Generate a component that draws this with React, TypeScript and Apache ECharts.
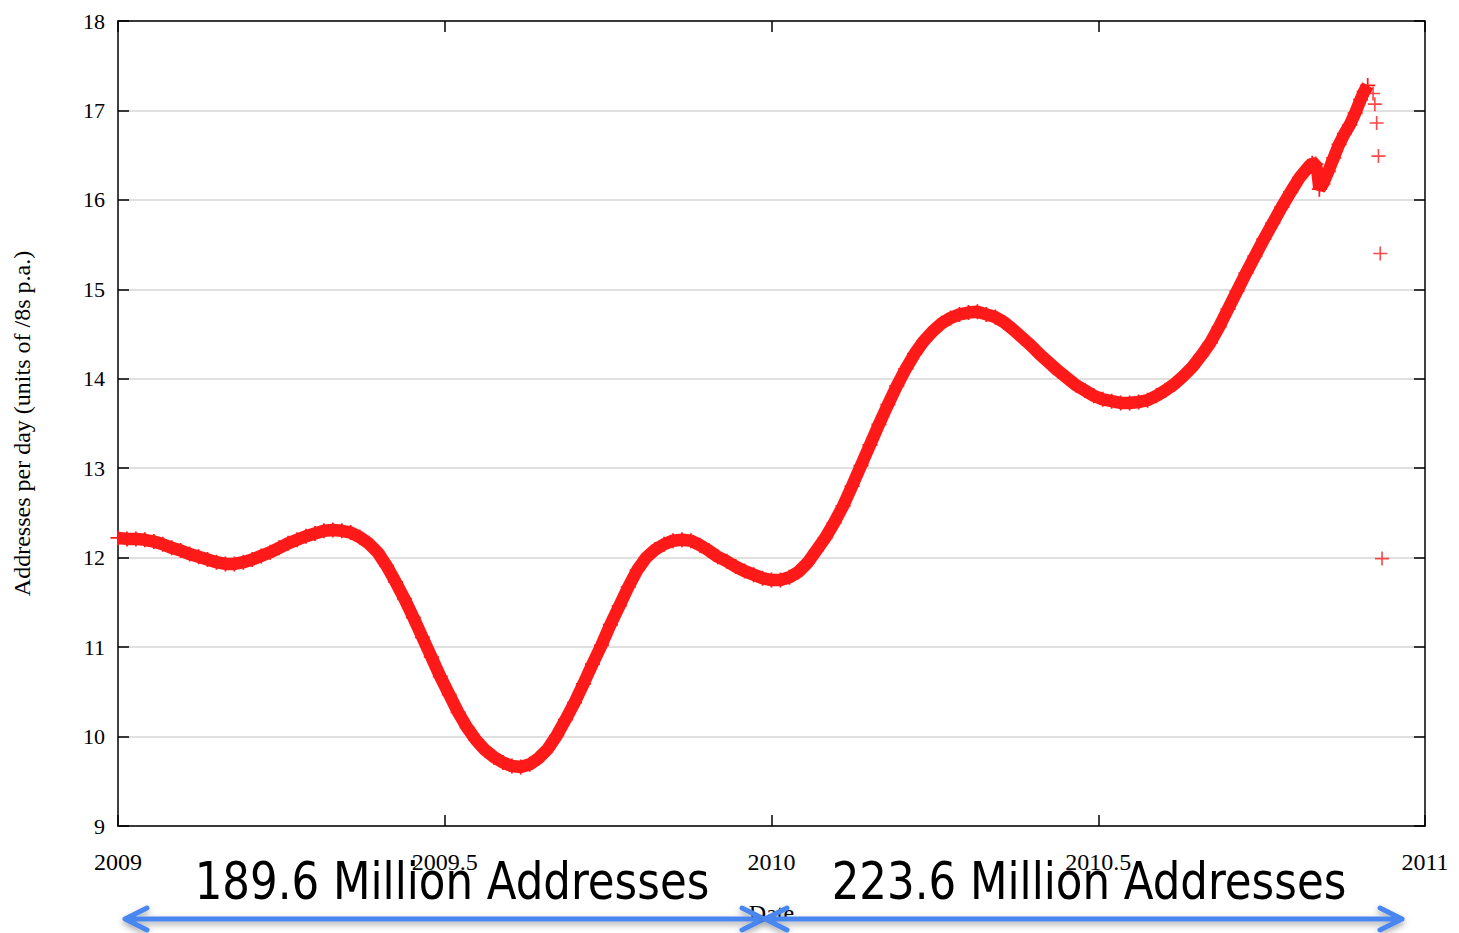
import React, { useEffect, useRef } from "react";
import * as echarts from "echarts";

// Sampling of the smoothed daily series: one value every STEP_DAYS days from 1 Jan 2009
const START_YEAR = 2009;
const DAYS_PER_YEAR = 365;
const STEP_DAYS = 5;

const smoothedValues = [
  12.22, 12.21, 12.21, 12.2, 12.18, 12.15, 12.11, 12.08, 12.04, 12.01,
  11.98, 11.95, 11.93, 11.93, 11.95, 11.98, 12.02, 12.06, 12.11, 12.16,
  12.2, 12.24, 12.27, 12.3, 12.31, 12.3, 12.28, 12.23, 12.16, 12.06,
  11.91, 11.73, 11.54, 11.33, 11.11, 10.89, 10.67, 10.47, 10.27, 10.1,
  9.96, 9.85, 9.77, 9.71, 9.67, 9.66, 9.69, 9.76, 9.86, 10.01,
  10.19, 10.38, 10.59, 10.81, 11.02, 11.25, 11.46, 11.67, 11.86, 12.0,
  12.09, 12.15, 12.19, 12.2, 12.19, 12.14, 12.08, 12.01, 11.96, 11.9,
  11.85, 11.81, 11.77, 11.75, 11.75, 11.78, 11.84, 11.94, 12.08, 12.22,
  12.39, 12.58, 12.8, 13.03, 13.26, 13.49, 13.71, 13.92, 14.11, 14.28,
  14.42, 14.53, 14.62, 14.68, 14.72, 14.74, 14.75, 14.72, 14.69, 14.63,
  14.55, 14.46, 14.37, 14.27, 14.18, 14.09, 14.01, 13.93, 13.87, 13.81,
  13.77, 13.75, 13.73, 13.73, 13.74, 13.76, 13.81, 13.87, 13.94, 14.03,
  14.13, 14.26, 14.4, 14.58, 14.78, 14.98, 15.18, 15.37, 15.56, 15.74,
  15.92, 16.09, 16.25, 16.37,
];

// Final weeks of the smoothed series (day offsets from 1 Jan 2009)
const lateDays = [667, 669, 670, 671, 673, 676, 679, 682, 685, 688, 691, 694, 696, 698];
const lateValues = [16.41, 16.4, 16.3, 16.12, 16.18, 16.32, 16.47, 16.62, 16.74, 16.84, 16.97, 17.12, 17.21, 17.28];

// Last few days, where the smoothing runs out of data
const endDays = [701, 702, 703, 704, 705, 706];
const endValues = [17.19, 17.07, 16.86, 16.49, 15.4, 11.99];

const xTicks = [2009, 2009.5, 2010, 2010.5, 2011];
const yMin = 9;
const yMax = 18;

const periodLabels = ["189.6 Million Addresses", "223.6 Million Addresses"];

const RED = "#ff1a1a";
const BLUE = "#4a86f0";
const SERIF = '"Liberation Serif", "Times New Roman", serif';
const SANS_NARROW = '"Liberation Sans Narrow", "DejaVu Sans Condensed", sans-serif';
const PLUS = "path://M5.3,0H6.7V5.3H12V6.7H6.7V12H5.3V6.7H0V5.3H5.3Z";

const dayToYear = (d: number) => START_YEAR + d / DAYS_PER_YEAR;

const curvePoints: number[][] = [
  ...smoothedValues.map((v, i) => [dayToYear(i * STEP_DAYS), v]),
  ...lateDays.map((d, i) => [dayToYear(d), lateValues[i]]),
];
const endPoints: number[][] = endDays.map((d, i) => [dayToYear(d), endValues[i]]);

const frameAxisLine = { show: true, lineStyle: { color: "#000", width: 1.5 } };
const innerTick = { show: true, inside: true, length: 11, lineStyle: { color: "#000", width: 1.5 } };

// Double-headed arrow drawn as one stroked polyline (heads retraced from the tips)
function arrow(x1: number, x2: number, y: number) {
  const h = 22;
  const w = 11;
  return {
    type: "polyline",
    shape: {
      points: [
        [x1 + h, y - w],
        [x1, y],
        [x1 + h, y + w],
        [x1, y],
        [x2, y],
        [x2 - h, y - w],
        [x2, y],
        [x2 - h, y + w],
      ],
    },
    style: {
      stroke: BLUE,
      lineWidth: 5,
      lineCap: "round",
      lineJoin: "round",
      fill: null,
      shadowBlur: 6,
      shadowOffsetY: 3,
      shadowColor: "rgba(0,0,0,0.35)",
    },
    z: 20,
  };
}

function periodText(text: string, x: number) {
  return {
    type: "text",
    x,
    y: 881,
    scaleX: 0.93,
    style: {
      text,
      font: `52px ${SANS_NARROW}`,
      fill: "#000",
      textAlign: "center",
      textVerticalAlign: "middle",
    },
    z: 10,
  };
}

export default function App() {
  const ref = useRef<HTMLDivElement>(null);

  useEffect(() => {
    if (!ref.current) return;
    const chart = echarts.init(ref.current, null, { renderer: "svg" });
    chart.setOption({
      animation: false,
      backgroundColor: "#fff",
      grid: { left: 118, right: 34, top: 21, bottom: 107 },
      xAxis: [
        {
          type: "value",
          min: xTicks[0],
          max: xTicks[xTicks.length - 1],
          interval: 0.5,
          position: "bottom",
          name: "Date",
          nameLocation: "middle",
          nameGap: 75,
          nameTextStyle: { fontFamily: SERIF, fontSize: 24, color: "#000" },
          axisLine: frameAxisLine,
          axisTick: innerTick,
          axisLabel: {
            margin: 24,
            fontFamily: SERIF,
            fontSize: 24,
            color: "#000",
            formatter: (v: number) => String(v),
          },
          splitLine: { show: false },
        },
        {
          type: "value",
          min: xTicks[0],
          max: xTicks[xTicks.length - 1],
          interval: 0.5,
          position: "top",
          axisLine: frameAxisLine,
          axisTick: innerTick,
          axisLabel: { show: false },
          splitLine: { show: false },
        },
      ],
      yAxis: [
        {
          type: "value",
          min: yMin,
          max: yMax,
          interval: 1,
          position: "left",
          name: "Addresses per day (units of /8s p.a.)",
          nameLocation: "middle",
          nameGap: 84,
          nameRotate: 90,
          nameTextStyle: { fontFamily: SERIF, fontSize: 24, color: "#000" },
          axisLine: frameAxisLine,
          axisTick: innerTick,
          axisLabel: { margin: 13, fontFamily: SERIF, fontSize: 22, color: "#000" },
          splitLine: { show: true, lineStyle: { color: "#d6d6d6", width: 1.5 } },
        },
        {
          type: "value",
          min: yMin,
          max: yMax,
          interval: 1,
          position: "right",
          axisLine: frameAxisLine,
          axisTick: innerTick,
          axisLabel: { show: false },
          splitLine: { show: false },
        },
      ],
      series: [
        {
          type: "line",
          data: curvePoints,
          symbol: PLUS,
          symbolSize: 15,
          showSymbol: true,
          showAllSymbol: true,
          lineStyle: { color: RED, width: 12.5 },
          itemStyle: { color: RED },
          z: 3,
        },
        {
          type: "scatter",
          data: endPoints,
          symbol: PLUS,
          symbolSize: 14,
          itemStyle: { color: RED },
          z: 3,
        },
      ],
      graphic: [
        periodText(periodLabels[0], 452),
        periodText(periodLabels[1], 1089),
        arrow(125, 764, 919),
        arrow(765, 1402, 919),
      ],
    });
    return () => chart.dispose();
  }, []);

  return (
    <div
      ref={ref}
      style={{ position: "absolute", left: 0, top: 0, width: 1459, height: 933 }}
    />
  );
}
